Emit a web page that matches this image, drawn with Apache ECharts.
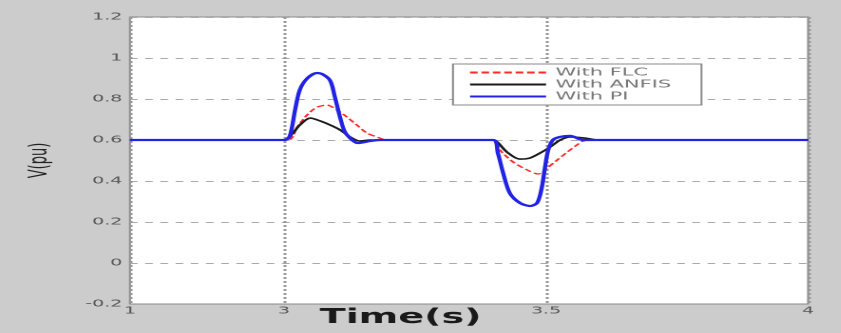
<!DOCTYPE html>
<html><head><meta charset="utf-8">
<script src="https://cdn.jsdelivr.net/npm/echarts@6/dist/echarts.min.js"></script>
<style>
html,body{margin:0;padding:0;background:#cccccc;overflow:hidden;}
#wrap{width:841px;height:333px;overflow:hidden;}
#c{width:443px;height:333px;transform:scaleX(1.9);transform-origin:0 0;}
</style>
</head><body><div id="wrap"><div id="c"></div></div>
<script>
// Data
var seriesNames = ['With FLC', 'With ANFIS', 'With PI'];
var flcT = [2.706, 3.006, 3.025, 3.044, 3.063, 3.082, 3.101, 3.12, 3.139, 3.158, 3.177, 3.197, 3.399, 3.412, 3.437, 3.464, 3.485, 3.502, 3.521, 3.54, 3.559, 3.571, 3.59, 4.0];
var flcV = [0.6, 0.6, 0.663, 0.722, 0.76, 0.77, 0.746, 0.712, 0.673, 0.634, 0.615, 0.6, 0.6, 0.551, 0.493, 0.454, 0.434, 0.463, 0.502, 0.54, 0.576, 0.595, 0.6, 0.6];
var anfisT = [2.706, 3.0, 3.017, 3.03, 3.05, 3.069, 3.088, 3.107, 3.126, 3.145, 3.164, 3.399, 3.407, 3.426, 3.45, 3.469, 3.489, 3.508, 3.527, 3.546, 3.578, 3.6, 4.0];
var anfisV = [0.6, 0.6, 0.634, 0.673, 0.707, 0.693, 0.673, 0.649, 0.615, 0.595, 0.6, 0.6, 0.59, 0.54, 0.507, 0.512, 0.537, 0.566, 0.6, 0.615, 0.608, 0.6, 0.6];
var piT = [2.706, 3.0, 3.011, 3.021, 3.03, 3.044, 3.063, 3.074, 3.088, 3.097, 3.107, 3.116, 3.13, 3.141, 3.164, 3.183, 3.399, 3.408, 3.418, 3.431, 3.45, 3.469, 3.483, 3.492, 3.498, 3.504, 3.513, 3.527, 3.546, 3.571, 4.0];
var piV = [0.6, 0.6, 0.62, 0.746, 0.844, 0.90, 0.927, 0.92, 0.89, 0.81, 0.71, 0.64, 0.60, 0.585, 0.595, 0.6, 0.6, 0.537, 0.44, 0.34, 0.293, 0.278, 0.293, 0.37, 0.468, 0.55, 0.60, 0.615, 0.62, 0.6, 0.6];
var xTickValues = [2.706, 3, 3.5, 4];
var xTickLabels = ['1', '3', '3.5', '4'];
var yTickLabels = ['-0.2', '0', '0.2', '0.4', '0.6', '0.8', '1', '1.2'];

function pairs(t, v) { return t.map(function (x, i) { return [x, v[i]]; }); }

var chart = echarts.init(document.getElementById('c'), null, { devicePixelRatio: 2 });
chart.setOption({
  backgroundColor: '#cccccc',
  animation: false,
  grid: { left: 68.4, right: 17.7, top: 17, bottom: 29, outerBoundsMode: 'none', containLabel: false,
    show: true, backgroundColor: '#ffffff', borderColor: '#8a8a8a', borderWidth: 1 },
  legend: {
    data: seriesNames, orient: 'vertical', left: 238.4, top: 64,
    itemWidth: 40, itemHeight: 9, itemGap: 1,
    padding: [3, 16, 3, 8],
    backgroundColor: '#ffffff', borderColor: '#8a8a8a', borderWidth: 1,
    itemStyle: { opacity: 0 },
    textStyle: { fontFamily: 'DejaVu Sans', fontSize: 11, lineHeight: 9, color: '#777' }
  },
  xAxis: {
    type: 'value', min: 2.706, max: 4,
    name: 'Time(s)', nameLocation: 'middle', nameGap: 4, nameMoveOverlap: false,
    nameTextStyle: { fontFamily: 'DejaVu Sans', fontWeight: 'bold', fontSize: 20, color: '#1a1a1a', padding: [0, 0, 0, -72] },
    axisLine: { show: false },
    axisTick: { show: false, customValues: xTickValues },
    axisLabel: { customValues: xTickValues, fontFamily: 'DejaVu Sans', fontSize: 10, color: '#555', margin: 2,
      formatter: function (v) { var i = xTickValues.indexOf(v); return i >= 0 ? xTickLabels[i] : ''; } },
    splitLine: { show: true, lineStyle: { color: '#999', width: 1.5, type: [2, 2] } }
  },
  yAxis: {
    type: 'value', min: -0.2, max: 1.2, interval: 0.2,
    name: 'V(pu)', nameLocation: 'middle', nameGap: 41, nameRotate: 90, nameMoveOverlap: false,
    nameTextStyle: { fontFamily: 'DejaVu Sans', fontSize: 13, color: '#222' },
    axisLine: { show: false }, axisTick: { show: false },
    axisLabel: { fontFamily: 'DejaVu Sans', fontSize: 10, color: '#555', margin: 4,
      formatter: function (v) { var i = Math.round((v + 0.2) / 0.2); return yTickLabels[i]; } },
    splitLine: { show: true, lineStyle: { color: '#aaa', width: 1, type: [4, 4] } }
  },
  series: [
    { name: seriesNames[0], type: 'line', data: pairs(flcT, flcV), smooth: 0.3, symbol: 'none',
      lineStyle: { color: '#ff2a2a', width: 1.3, type: [4, 2] }, itemStyle: { color: '#ff2a2a' } },
    { name: seriesNames[1], type: 'line', data: pairs(anfisT, anfisV), smooth: 0.3, symbol: 'none',
      lineStyle: { color: '#1a1a1a', width: 1.6 }, itemStyle: { color: '#1a1a1a' } },
    { name: seriesNames[2], type: 'line', data: pairs(piT, piV), smooth: 0.3, symbol: 'none',
      lineStyle: { color: '#2323e6', width: 2.2 }, itemStyle: { color: '#2323e6' } }
  ]
});
</script></body></html>
